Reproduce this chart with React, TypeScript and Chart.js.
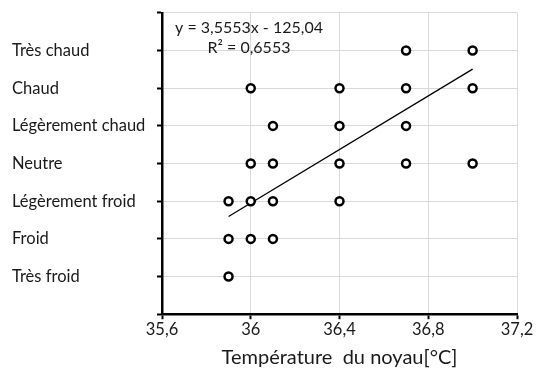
import React, { useEffect, useRef } from "react";
import { Chart, registerables } from "chart.js";

Chart.register(...registerables);

const categories = ["", "Très froid", "Froid", "Légèrement froid", "Neutre", "Légèrement chaud", "Chaud", "Très chaud", ""];

const pointsX = [
  36.7, 37.0,
  36.0, 36.4, 36.7, 37.0,
  36.1, 36.4, 36.7,
  36.0, 36.1, 36.4, 36.7, 37.0,
  35.9, 36.0, 36.1, 36.4,
  35.9, 36.0, 36.1,
  35.9,
];
const pointsY = [
  7, 7,
  6, 6, 6, 6,
  5, 5, 5,
  4, 4, 4, 4, 4,
  3, 3, 3, 3,
  2, 2, 2,
  1,
];

const trendSlope = 3.5553;
const trendIntercept = -125.04;
const trendXRange = [35.9, 37.0];
const equationLines = ["y = 3,5553x - 125,04", "R² = 0,6553"];
const xTitle = "Température  du noyau[°C]";

const FONT = "Lato, 'Open Sans', sans-serif";
const TEXT = "#1a1a1a";

export default function App() {
  const ref = useRef<HTMLCanvasElement | null>(null);

  useEffect(() => {
    if (!ref.current) return;
    const scatter = pointsX.map((x, i) => ({ x, y: pointsY[i] }));
    const trend = trendXRange.map((x) => ({ x, y: trendSlope * x + trendIntercept }));

    const eqPlugin = {
      id: "eq",
      afterDatasetsDraw(chart: any) {
        const { ctx, chartArea } = chart;
        ctx.save();
        ctx.fillStyle = TEXT;
        ctx.font = `16px ${FONT}`;
        ctx.textBaseline = "middle";
        ctx.textAlign = "center";
        const cx = chartArea.left + 87;
        ctx.fillText(equationLines[0], cx, chartArea.top + 15);
        ctx.fillText(equationLines[1], cx, chartArea.top + 35);
        ctx.restore();
      },
    };

    const chart = new Chart(ref.current, {
      type: "scatter",
      data: {
        datasets: [
          {
            data: scatter,
            pointRadius: 4,
            pointBorderWidth: 2.5,
            pointBackgroundColor: "#fff",
            pointBorderColor: "#000",
            showLine: false,
          },
          {
            data: trend,
            showLine: true,
            borderColor: "#000",
            borderWidth: 1.3,
            pointRadius: 0,
          } as any,
        ],
      },
      options: {
        animation: false,
        responsive: false,
        maintainAspectRatio: false,
        layout: { padding: { left: 12, top: 12, right: 24, bottom: 6 } },
        plugins: { legend: { display: false }, tooltip: { enabled: false } },
        scales: {
          x: {
            type: "linear",
            min: 35.6,
            max: 37.2,
            ticks: {
              stepSize: 0.4,
              color: TEXT,
              font: { family: FONT, size: 16.5 },
              padding: 1,
              callback: (v: any) => String(Math.round(Number(v) * 10) / 10).replace(".", ","),
            },
            grid: { color: "#d9d9d9", lineWidth: 1, tickColor: "#000", tickLength: 5, tickWidth: 2 },
            border: { color: "#000", width: 2.5 },
            title: {
              display: true,
              text: xTitle,
              color: TEXT,
              font: { family: FONT, size: 20 },
              padding: { top: 5, bottom: 0 },
            },
          },
          y: {
            type: "linear",
            min: 0,
            max: 8,
            ticks: {
              stepSize: 1,
              color: TEXT,
              font: { family: FONT, size: 16.5 },
              crossAlign: "far",
              callback: (v: any) => categories[Math.round(Number(v))] ?? "",
            },
            grid: { color: "#d9d9d9", lineWidth: 1, tickColor: "#000", tickLength: 5, tickWidth: 2 },
            border: { color: "#000", width: 2.5 },
            afterFit: (s: any) => {
              s.width = 150;
            },
          } as any,
        },
      },
      plugins: [eqPlugin],
    });
    return () => chart.destroy();
  }, []);

  return (
    <div style={{ position: "fixed", left: 0, top: 0, width: 541, height: 376, background: "#fff" }}>
      <canvas ref={ref} width={541} height={376} style={{ width: 541, height: 376 }} />
    </div>
  );
}
